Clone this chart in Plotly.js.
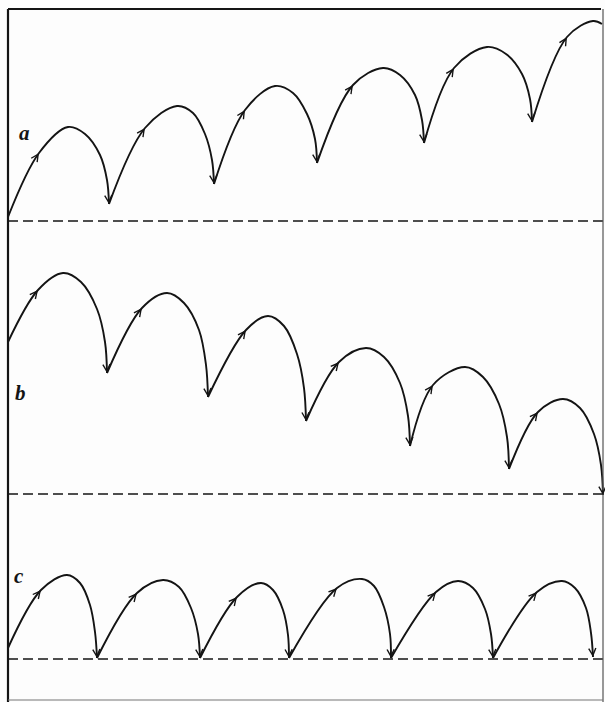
<!DOCTYPE html>
<html><head><meta charset="utf-8">
<script src="https://cdn.plot.ly/plotly-3.0.1.min.js"></script>
<style>html,body{margin:0;padding:0;background:#fdfdfd;} #chart{width:605px;height:702px;}</style>
</head><body><div id="chart"></div>
<script>
// ---- Panel a ----
const aCuspX = [8,109,214,317,424,532,602];
const aCuspY = [217,204,184,163,143,122,24];
const aUpX   = [39,145,245,353,454,567];
const aUpY   = [153,128,110,85,68,37];
const aPeakX = [68,177,275,383,487,593];
const aPeakY = [127,106,86,68,47,21];
const aFall0X = [85,193,293,400,506,null];
const aFall0Y = [134,113,93,75,54,null];
const aFall1X = [100,205,307,415,522,null];
const aFall1Y = [155,134,114,95,74,null];
const aFall2X = [107,212,315,422,530,null];
const aFall2Y = [180,160,139,120,99,null];
// ---- Panel b ----
const bCuspX = [8,107,208,306,410,509,603];
const bCuspY = [342,373,397,421,446,469,495];
const bUpX   = [38,142,246,339,433,538];
const bUpY   = [290,308,330,362,385,412];
const bPeakX = [63,167,268,366,465,563];
const bPeakY = [273,293,316,348,367,399];
const bFall0X = [81,184,284,384,483,580];
const bFall0Y = [282,303,326,357,377,408];
const bFall1X = [97,199,297,400,499,594];
const bFall1Y = [309,330,354,383,404,434];
const bFall2X = [105,206,304,408,507,601];
const bFall2Y = [342,365,388,416,437,465];
// ---- Panel c ----
const cCuspX = [8,97,200,289,391,493,593];
const cCuspY = [648,658,658,658,658,658,657];
const cUpX   = [41,137,237,337,436,537];
const cUpY   = [590,593,597,588,592,592];
const cPeakX = [67,163,261,362,458,562];
const cPeakY = [575,580,583,579,581,581];
const cFall0X = [80,179,273,374,473,575];
const cFall0Y = [583,587,590,586,588,588];
const cFall1X = [90,191,283,384,485,586];
const cFall1Y = [605,608,610,607,609,608];
const cFall2X = [95,198,288,390,491,591];
const cFall2Y = [632,634,635,634,634,633];
// ---- labels and frame ----
const panelLabels = ['a','b','c'];
const labelX = [24,20,19];
const labelY = [133,393,576];
const baselines = [221,494,659];
const frame = {left:8, top:9, right:603, bottom:700};

const panels = [
  {cx:aCuspX,cy:aCuspY,ux:aUpX,uy:aUpY,px:aPeakX,py:aPeakY,f0x:aFall0X,f0y:aFall0Y,f1x:aFall1X,f1y:aFall1Y,f2x:aFall2X,f2y:aFall2Y},
  {cx:bCuspX,cy:bCuspY,ux:bUpX,uy:bUpY,px:bPeakX,py:bPeakY,f0x:bFall0X,f0y:bFall0Y,f1x:bFall1X,f1y:bFall1Y,f2x:bFall2X,f2y:bFall2Y},
  {cx:cCuspX,cy:cCuspY,ux:cUpX,uy:cUpY,px:cPeakX,py:cPeakY,f0x:cFall0X,f0y:cFall0Y,f1x:cFall1X,f1y:cFall1Y,f2x:cFall2X,f2y:cFall2Y}
];

const INK = '#141414';
const traces = [];
const annotations = [];
const L = 6;

panels.forEach(p => {
  const xs = [], ys = [];
  for (let i = 0; i < p.px.length; i++) {
    xs.push(p.cx[i], p.ux[i], p.px[i]); ys.push(p.cy[i], p.uy[i], p.py[i]);
    if (p.f1x[i] !== null) {
      xs.push(p.f0x[i], p.f1x[i], p.f2x[i]); ys.push(p.f0y[i], p.f1y[i], p.f2y[i]);
    }
    xs.push(p.cx[i+1], null); ys.push(p.cy[i+1], null);
    // rising arrow
    let dx = p.px[i] - p.cx[i], dy = p.py[i] - p.cy[i];
    let n = Math.hypot(dx, dy);
    annotations.push({x:p.ux[i], y:p.uy[i], xref:'x', yref:'y', text:'', showarrow:true,
      ax:-dx/n*L, ay:-dy/n*L, arrowhead:5, arrowsize:1.0, arrowwidth:1.4, arrowcolor:INK});
    // falling arrow into cusp
    if (p.f2x[i] !== null) {
      dx = p.f2x[i] - p.cx[i+1]; dy = p.f2y[i] - p.cy[i+1];
      n = Math.hypot(dx, dy);
      annotations.push({x:p.cx[i+1], y:p.cy[i+1], xref:'x', yref:'y', text:'', showarrow:true,
        ax:dx/n*L, ay:dy/n*L, arrowhead:5, arrowsize:1.0, arrowwidth:1.4, arrowcolor:INK});
    }
  }
  traces.push({x:xs, y:ys, type:'scatter', mode:'lines', connectgaps:false,
    line:{color:INK, width:1.9, shape:'spline', smoothing:1.0}, hoverinfo:'skip'});
});

panelLabels.forEach((t, i) => {
  annotations.push({x:labelX[i], y:labelY[i], xref:'x', yref:'y', text:'<b><i>'+t+'</i></b>',
    showarrow:false, xanchor:'center', yanchor:'middle',
    font:{family:'Liberation Serif, DejaVu Serif, serif', size:21, color:INK}});
});

const shapes = [];
baselines.forEach(y => {
  shapes.push({type:'line', xref:'x', yref:'y', x0:frame.left, x1:605, y0:y, y1:y,
    line:{color:INK, width:1.7, dash:'10px,5px'}});
});
shapes.push({type:'line', xref:'x', yref:'y', x0:frame.left, x1:frame.left, y0:frame.top, y1:702, line:{color:INK, width:2.2}});
shapes.push({type:'line', xref:'x', yref:'y', x0:frame.left, x1:frame.right-2, y0:frame.top, y1:frame.top, line:{color:INK, width:2}});
shapes.push({type:'line', xref:'x', yref:'y', x0:frame.right, x1:frame.right, y0:frame.top, y1:702, line:{color:'#555', width:1.2}});
shapes.push({type:'line', xref:'x', yref:'y', x0:frame.left, x1:frame.right, y0:frame.bottom, y1:frame.bottom, line:{color:'#777', width:1.2}});

const layout = {
  width:605, height:702, margin:{l:0,r:0,t:0,b:0},
  paper_bgcolor:'#fdfdfd', plot_bgcolor:'#fdfdfd', showlegend:false,
  xaxis:{range:[0,605], visible:false, fixedrange:true},
  yaxis:{range:[702,0], visible:false, fixedrange:true},
  shapes:shapes, annotations:annotations
};
Plotly.newPlot('chart', traces, layout, {staticPlot:true, displayModeBar:false});
</script>
</body></html>
